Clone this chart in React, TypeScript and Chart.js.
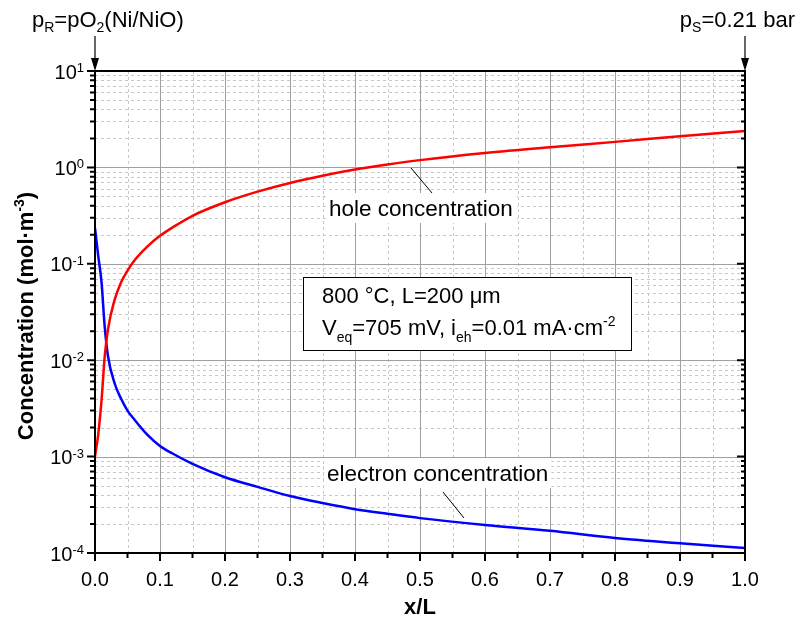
import { useEffect, useRef } from 'react';
import { Chart, registerables } from 'chart.js';

Chart.register(...registerables);

// Position along the membrane, normalised by its thickness
const positions = [0, 0.005, 0.01, 0.015, 0.02, 0.03, 0.04, 0.05, 0.06, 0.08, 0.1, 0.12, 0.15, 0.2, 0.25, 0.3, 0.35, 0.4, 0.45, 0.5, 0.6, 0.7, 0.8, 0.9, 1.0];
// Hole concentration, mol·m-3
const holeConc = [1.0e-3, 1.7e-3, 3.8e-3, 0.011, 0.021, 0.042, 0.064, 0.085, 0.107, 0.15, 0.195, 0.24, 0.315, 0.435, 0.56, 0.69, 0.82, 0.95, 1.07, 1.19, 1.41, 1.62, 1.84, 2.1, 2.39];
// Electron concentration, mol·m-3
const electronConc = [0.235, 0.12, 0.065, 0.022, 0.011, 5.8e-3, 4.0e-3, 3.0e-3, 2.45e-3, 1.7e-3, 1.29e-3, 1.07e-3, 8.4e-4, 6.1e-4, 4.85e-4, 3.9e-4, 3.3e-4, 2.85e-4, 2.55e-4, 2.3e-4, 1.95e-4, 1.7e-4, 1.43e-4, 1.26e-4, 1.13e-4];

const xTickValues = [0, 0.1, 0.2, 0.3, 0.4, 0.5, 0.6, 0.7, 0.8, 0.9, 1.0];
const xTickLabels = ['0.0', '0.1', '0.2', '0.3', '0.4', '0.5', '0.6', '0.7', '0.8', '0.9', '1.0'];
const xMinorValues = [0.05, 0.15, 0.25, 0.35, 0.45, 0.55, 0.65, 0.75, 0.85, 0.95];
const yExponents = [-4, -3, -2, -1, 0, 1];

const FONT = '"Liberation Sans", Arial, Helvetica, sans-serif';

type Run = { t: string; k?: 'sup' | 'sub' };

function font(size: number, bold: boolean) {
  return `${bold ? 'bold ' : ''}${size}px ${FONT}`;
}

function runsWidth(ctx: CanvasRenderingContext2D, runs: Run[], size: number, small: number, bold: boolean) {
  let w = 0;
  for (const r of runs) {
    ctx.font = font(r.k ? small : size, bold);
    w += ctx.measureText(r.t).width;
  }
  return w;
}

function drawRuns(
  ctx: CanvasRenderingContext2D,
  runs: Run[],
  x: number,
  y: number,
  opts: { size: number; small: number; bold?: boolean; align?: 'left' | 'center' | 'right'; supDy: number; subDy: number }
) {
  const bold = !!opts.bold;
  const w = runsWidth(ctx, runs, opts.size, opts.small, bold);
  let cx = x;
  if (opts.align === 'center') cx = x - w / 2;
  if (opts.align === 'right') cx = x - w;
  ctx.textAlign = 'left';
  ctx.textBaseline = 'alphabetic';
  for (const r of runs) {
    ctx.font = font(r.k ? opts.small : opts.size, bold);
    const dy = r.k === 'sup' ? -opts.supDy : r.k === 'sub' ? opts.subDy : 0;
    ctx.fillText(r.t, cx, y + dy);
    cx += ctx.measureText(r.t).width;
  }
  return w;
}

const holeLabel = 'hole concentration';
const electronLabel = 'electron concentration';

const decorations = {
  id: 'decorations',
  beforeDatasetsDraw(chart: any) {
    const { ctx, chartArea: a, scales } = chart;
    const xs = scales.x;
    const ys = scales.y;
    ctx.save();
    ctx.beginPath();
    ctx.rect(a.left, a.top, a.right - a.left, a.bottom - a.top);
    ctx.clip();

    // minor grid (dashed)
    ctx.strokeStyle = '#c8c8c8';
    ctx.lineWidth = 1;
    ctx.setLineDash([3, 3]);
    ctx.beginPath();
    for (const v of xMinorValues) {
      const px = Math.round(xs.getPixelForValue(v)) + 0.5;
      ctx.moveTo(px, a.top);
      ctx.lineTo(px, a.bottom);
    }
    for (let e = -4; e < 1; e++) {
      for (let m = 2; m <= 9; m++) {
        const py = Math.round(ys.getPixelForValue(m * Math.pow(10, e))) + 0.5;
        ctx.moveTo(a.left, py);
        ctx.lineTo(a.right, py);
      }
    }
    ctx.stroke();

    // major grid (solid)
    ctx.setLineDash([]);
    ctx.strokeStyle = '#a0a0a0';
    ctx.beginPath();
    for (const v of xTickValues) {
      const px = Math.round(xs.getPixelForValue(v)) + 0.5;
      ctx.moveTo(px, a.top);
      ctx.lineTo(px, a.bottom);
    }
    for (const e of yExponents) {
      const py = Math.round(ys.getPixelForValue(Math.pow(10, e))) + 0.5;
      ctx.moveTo(a.left, py);
      ctx.lineTo(a.right, py);
    }
    ctx.stroke();

    // white backing behind the curve labels
    ctx.fillStyle = '#ffffff';
    ctx.font = font(22.5, false);
    const hw = ctx.measureText(holeLabel).width;
    ctx.fillRect(327, 193, hw + 6, 30);
    const ew = ctx.measureText(electronLabel).width;
    ctx.fillRect(324, 458, ew + 6, 30);
    ctx.restore();
  },
  afterDatasetsDraw(chart: any) {
    const { ctx, chartArea: a, scales } = chart;
    const xs = scales.x;
    const ys = scales.y;
    ctx.save();
    ctx.fillStyle = '#000';
    ctx.strokeStyle = '#000';

    // curve labels and leader lines
    ctx.font = font(22.5, false);
    ctx.textAlign = 'left';
    ctx.textBaseline = 'alphabetic';
    ctx.fillText(holeLabel, 329, 216);
    ctx.fillText(electronLabel, 327, 481);
    ctx.lineWidth = 1;
    ctx.beginPath();
    ctx.moveTo(411, 168);
    ctx.lineTo(432, 193);
    ctx.moveTo(443, 492);
    ctx.lineTo(464, 518);
    ctx.stroke();

    // conditions box
    ctx.fillStyle = '#ffffff';
    ctx.fillRect(303.5, 277.5, 328, 73);
    ctx.strokeRect(303.5, 277.5, 328, 73);
    ctx.fillStyle = '#000';
    const boxOpts = { size: 22, small: 14, supDy: 9, subDy: 7 };
    drawRuns(ctx, [{ t: '800 °C, L=200 μm' }], 322, 303, boxOpts);
    drawRuns(
      ctx,
      [
        { t: 'V' },
        { t: 'eq', k: 'sub' },
        { t: '=705 mV, i' },
        { t: 'eh', k: 'sub' },
        { t: '=0.01 mA·cm' },
        { t: '-2', k: 'sup' },
      ],
      322,
      335,
      boxOpts
    );

    // frame
    ctx.lineWidth = 2;
    ctx.strokeRect(a.left, a.top, a.right - a.left, a.bottom - a.top);

    // x ticks
    ctx.beginPath();
    for (const v of xTickValues) {
      const px = xs.getPixelForValue(v);
      ctx.moveTo(px, a.bottom);
      ctx.lineTo(px, a.bottom + 8);
    }
    for (const v of xMinorValues) {
      const px = xs.getPixelForValue(v);
      ctx.moveTo(px, a.bottom);
      ctx.lineTo(px, a.bottom + 5);
    }
    // y ticks, outside on the left and inside on the right
    for (const e of yExponents) {
      const py = ys.getPixelForValue(Math.pow(10, e));
      ctx.moveTo(a.left, py);
      ctx.lineTo(a.left - 8, py);
      ctx.moveTo(a.right, py);
      ctx.lineTo(a.right - 8, py);
    }
    for (let e = -4; e < 1; e++) {
      for (let m = 2; m <= 9; m++) {
        const py = ys.getPixelForValue(m * Math.pow(10, e));
        ctx.moveTo(a.left, py);
        ctx.lineTo(a.left - 5, py);
        ctx.moveTo(a.right, py);
        ctx.lineTo(a.right - 4, py);
      }
    }
    ctx.stroke();

    // x tick labels
    ctx.font = font(20, false);
    ctx.textAlign = 'center';
    ctx.textBaseline = 'alphabetic';
    xTickValues.forEach((v, i) => {
      ctx.fillText(xTickLabels[i], xs.getPixelForValue(v), a.bottom + 33);
    });

    // y tick labels: 10^n
    for (const e of yExponents) {
      const py = ys.getPixelForValue(Math.pow(10, e));
      drawRuns(ctx, [{ t: '10' }, { t: String(e), k: 'sup' }], 84, py + 7.5, {
        size: 20,
        small: 13,
        align: 'right',
        supDy: 6.5,
        subDy: 0,
      });
    }

    // axis titles
    ctx.font = font(22, true);
    ctx.textAlign = 'center';
    ctx.fillText('x/L', (a.left + a.right) / 2, 614);

    ctx.save();
    ctx.translate(33, 316);
    ctx.rotate(-Math.PI / 2);
    drawRuns(ctx, [{ t: 'Concentration (mol·m' }, { t: '-3', k: 'sup' }, { t: ')' }], 0, 0, {
      size: 22,
      small: 14,
      bold: true,
      align: 'center',
      supDy: 9,
      subDy: 0,
    });
    ctx.restore();

    // boundary conditions with arrows
    const topOpts = { size: 22, small: 14, supDy: 9, subDy: 5 };
    drawRuns(
      ctx,
      [{ t: 'p' }, { t: 'R', k: 'sub' }, { t: '=pO' }, { t: '2', k: 'sub' }, { t: '(Ni/NiO)' }],
      32,
      27,
      topOpts
    );
    drawRuns(ctx, [{ t: 'p' }, { t: 'S', k: 'sub' }, { t: '=0.21 bar' }], 795, 27, { ...topOpts, align: 'right' });

    const arrow = (px: number) => {
      ctx.lineWidth = 1.2;
      ctx.beginPath();
      ctx.moveTo(px, 36);
      ctx.lineTo(px, a.top - 8);
      ctx.stroke();
      ctx.beginPath();
      ctx.moveTo(px - 4, a.top - 13);
      ctx.lineTo(px + 4, a.top - 13);
      ctx.lineTo(px, a.top);
      ctx.closePath();
      ctx.fill();
    };
    arrow(xs.getPixelForValue(0));
    arrow(xs.getPixelForValue(1));

    ctx.restore();
  },
};

export default function App() {
  const canvasRef = useRef<HTMLCanvasElement | null>(null);

  useEffect(() => {
    const canvas = canvasRef.current;
    if (!canvas) return;
    const chart = new Chart(canvas, {
      type: 'line',
      data: {
        datasets: [
          {
            label: 'hole concentration',
            data: positions.map((x, i) => ({ x, y: holeConc[i] })),
            borderColor: '#ff0000',
            borderWidth: 2.5,
            pointRadius: 0,
            cubicInterpolationMode: 'monotone',
            fill: false,
          },
          {
            label: 'electron concentration',
            data: positions.map((x, i) => ({ x, y: electronConc[i] })),
            borderColor: '#0000ff',
            borderWidth: 2.5,
            pointRadius: 0,
            cubicInterpolationMode: 'monotone',
            fill: false,
          },
        ],
      },
      options: {
        responsive: false,
        animation: false,
        devicePixelRatio: 1,
        layout: { padding: { top: 71, right: 54, left: 0, bottom: 0 } },
        plugins: {
          legend: { display: false },
          tooltip: { enabled: false },
        },
        scales: {
          x: {
            type: 'linear',
            min: 0,
            max: 1,
            ticks: { display: false },
            grid: { display: false },
            border: { display: false },
            afterFit: (s: any) => {
              s.height = 71;
            },
          },
          y: {
            type: 'logarithmic',
            min: 1e-4,
            max: 10,
            ticks: { display: false },
            grid: { display: false },
            border: { display: false },
            afterFit: (s: any) => {
              s.width = 95;
            },
          },
        },
      },
      plugins: [decorations],
    } as any);
    return () => chart.destroy();
  }, []);

  return (
    <div style={{ position: 'absolute', left: 0, top: 0, width: 799, height: 624, background: '#fff' }}>
      <canvas ref={canvasRef} width={799} height={624} />
    </div>
  );
}
